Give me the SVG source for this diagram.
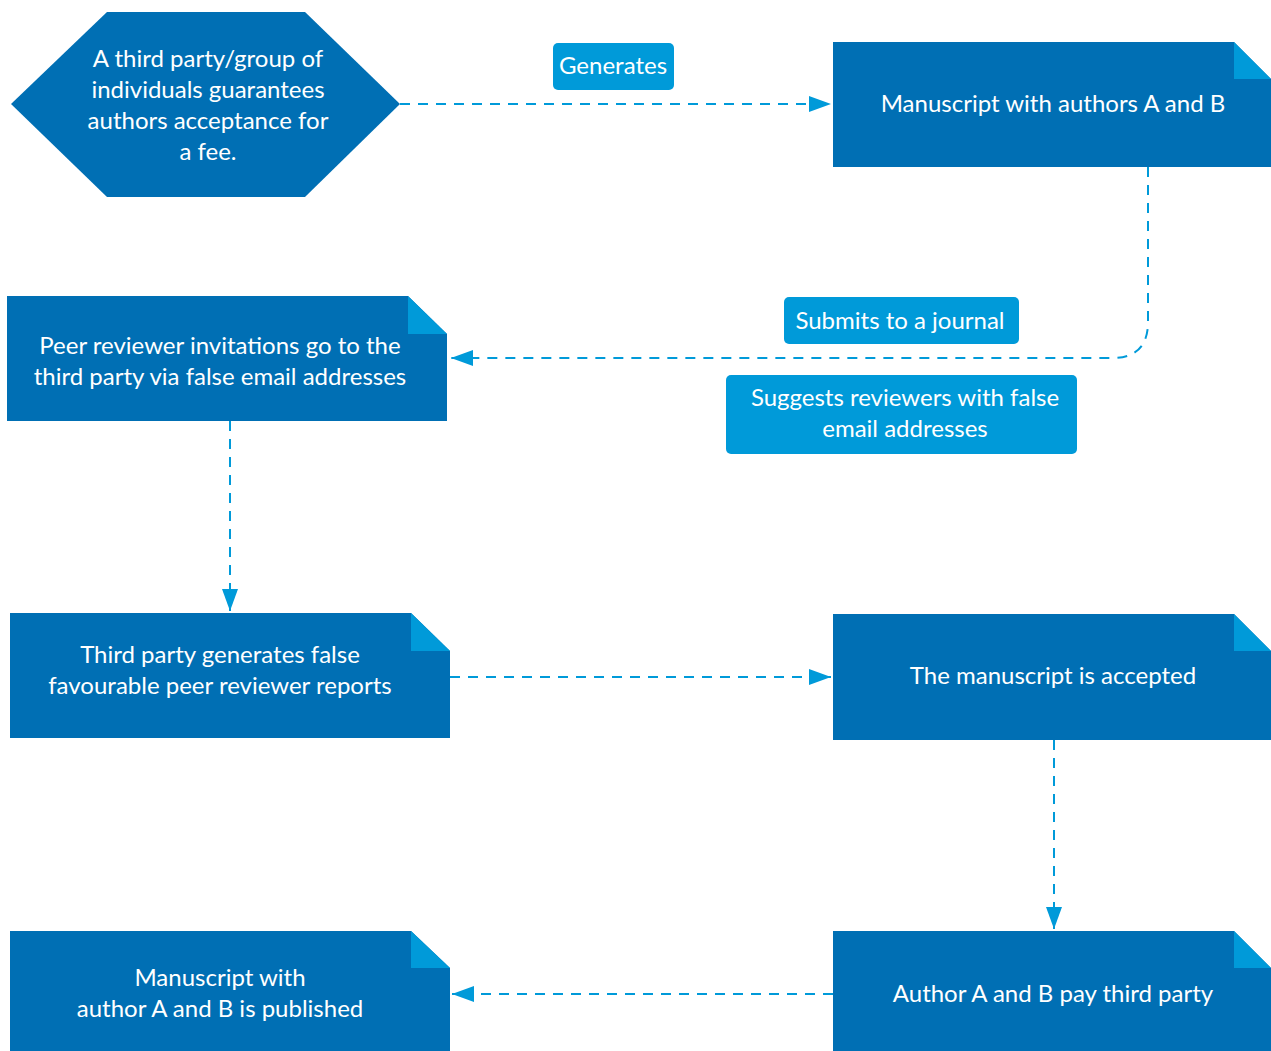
<svg xmlns="http://www.w3.org/2000/svg" width="1271" height="1051" viewBox="0 0 1271 1051">
  <style>
    .node { fill: #006fb4; }
    .fold { fill: #009ad9; }
    .tag { fill: #009ad9; }
    .t { font-family: Lato, "Open Sans", "Liberation Sans", sans-serif; font-size: 24px; fill: #ffffff; text-anchor: middle; }
    .edge { fill: none; stroke: #009ad9; stroke-width: 2; stroke-dasharray: 10 8; }
  </style>
  <defs>
    <marker id="arrow" viewBox="0 0 22 16" refX="22" refY="8" markerWidth="22" markerHeight="16" markerUnits="userSpaceOnUse" orient="auto">
      <path d="M0,0 L22,8 L0,16 Z" fill="#009ad9"/>
    </marker>
  </defs>

  <g id="connectors">
    <path class="edge" d="M400,104 H831" marker-end="url(#arrow)"/>
    <path class="edge" d="M1148,167 V322 Q1148,358 1112,358 H451" marker-end="url(#arrow)"/>
    <path class="edge" d="M230,421 V611" marker-end="url(#arrow)"/>
    <path class="edge" d="M450,677 H831" marker-end="url(#arrow)"/>
    <path class="edge" d="M1054,740 V929" marker-end="url(#arrow)"/>
    <path class="edge" d="M833,994 H452" marker-end="url(#arrow)"/>
  </g>

  <g id="third-party">
    <polygon class="node" points="11,104 107,12 305,12 400,104 305,197 107,197"/>
    <text class="t" x="208" y="67">A third party/group of</text>
    <text class="t" x="208" y="98">individuals guarantees</text>
    <text class="t" x="208" y="129">authors acceptance for</text>
    <text class="t" x="208" y="160">a fee.</text>
  </g>

  <g id="manuscript">
    <polygon class="node" points="833,42 1234,42 1271,79 1271,167 833,167"/>
    <polygon class="fold" points="1234,42 1234,79 1271,79"/>
    <text class="t" x="1053" y="112">Manuscript with authors A and B</text>
  </g>

  <g id="peer-invitations">
    <polygon class="node" points="7,296 408,296 447,334 447,421 7,421"/>
    <polygon class="fold" points="408,296 408,334 447,334"/>
    <text class="t" x="220" y="354">Peer reviewer invitations go to the</text>
    <text class="t" x="220" y="385">third party via false email addresses</text>
  </g>

  <g id="false-reports">
    <polygon class="node" points="10,613 411,613 450,651 450,738 10,738"/>
    <polygon class="fold" points="411,613 411,651 450,651"/>
    <text class="t" x="220" y="663">Third party generates false</text>
    <text class="t" x="220" y="694">favourable peer reviewer reports</text>
  </g>

  <g id="accepted">
    <polygon class="node" points="833,614 1234,614 1271,651 1271,740 833,740"/>
    <polygon class="fold" points="1234,614 1234,651 1271,651"/>
    <text class="t" x="1053" y="684">The manuscript is accepted</text>
  </g>

  <g id="payment">
    <polygon class="node" points="833,931 1234,931 1271,968 1271,1051 833,1051"/>
    <polygon class="fold" points="1234,931 1234,968 1271,968"/>
    <text class="t" x="1053" y="1002">Author A and B pay third party</text>
  </g>

  <g id="published">
    <polygon class="node" points="10,931 411,931 450,968 450,1051 10,1051"/>
    <polygon class="fold" points="411,931 411,968 450,968"/>
    <text class="t" x="220" y="986">Manuscript with</text>
    <text class="t" x="220" y="1017">author A and B is published</text>
  </g>

  <g id="label-generates">
    <rect class="tag" x="553" y="43" width="121" height="47" rx="5"/>
    <text class="t" x="613" y="74">Generates</text>
  </g>

  <g id="label-submits">
    <rect class="tag" x="784" y="297" width="235" height="47" rx="5"/>
    <text class="t" x="900" y="329">Submits to a journal</text>
  </g>

  <g id="label-suggests">
    <rect class="tag" x="726" y="375" width="351" height="79" rx="5"/>
    <text class="t" x="905" y="406">Suggests reviewers with false</text>
    <text class="t" x="905" y="437">email addresses</text>
  </g>
</svg>
